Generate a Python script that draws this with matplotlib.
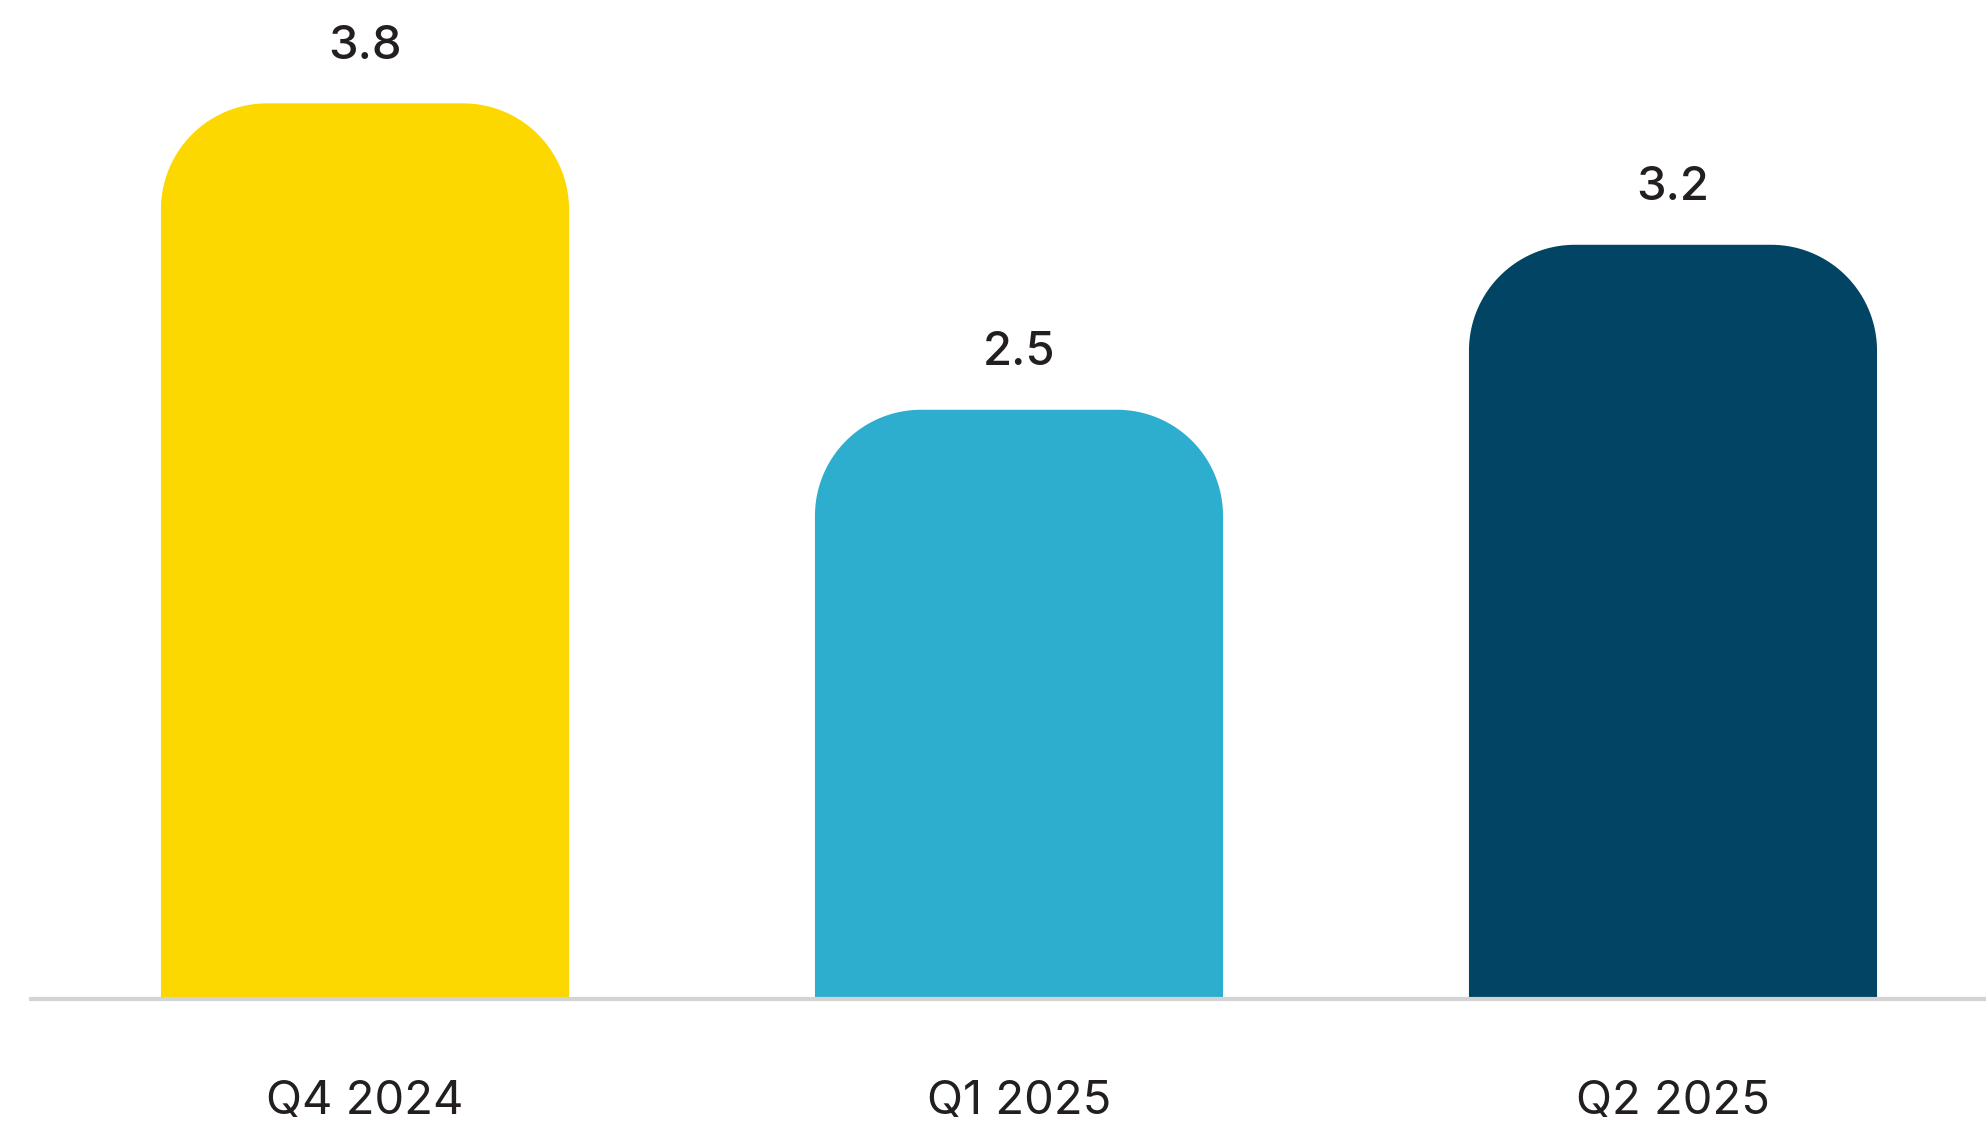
import numpy as np
import matplotlib
matplotlib.use("Agg")
import matplotlib.pyplot as plt
from matplotlib.patches import Polygon

# Data
categories = ["Q4 2024", "Q1 2025", "Q2 2025"]
values = [3.8, 2.5, 3.2]
colors = ["#FCD800", "#2EAECE", "#014463"]

W, H, DPI = 1986, 1128, 100
fig = plt.figure(figsize=(W / DPI, H / DPI), dpi=DPI)
ax = fig.add_axes([0, 0, 1, 1])

xlim = (-0.5581, 2.4786)
ylim = (-0.5473, 4.2385)
ax.set_xlim(*xlim)
ax.set_ylim(*ylim)
ax.axis("off")

bar_w = 0.624
# corner radius in pixels, converted to data units on each axis so the
# rounded corners come out circular on screen
px_x = W / (xlim[1] - xlim[0])
px_y = H / (ylim[1] - ylim[0])
r_px = 106
rx = r_px / px_x
ry = r_px / px_y


def rounded_top_bar(x_center, height, width):
    left, right = x_center - width / 2, x_center + width / 2
    t = np.linspace(0, np.pi / 2, 40)
    # top-right corner (from right side going up to the top edge)
    tr = np.column_stack([right - rx + rx * np.cos(t), height - ry + ry * np.sin(t)])
    # top-left corner
    tl = np.column_stack([left + rx - rx * np.cos(t[::-1]), height - ry + ry * np.sin(t[::-1])])
    pts = np.vstack([[right, 0], tr, tl, [left, 0]])
    return pts


text_color = "#231F20"

for i, (cat, val, col) in enumerate(zip(categories, values, colors)):
    ax.add_patch(Polygon(rounded_top_bar(i, val, bar_w), closed=True,
                         facecolor=col, edgecolor="none", zorder=2))
    ax.text(i, val + 0.19, f"{val:.1f}", ha="center", va="baseline",
            fontsize=34, color=text_color, family="Inter", fontweight="medium")
    ax.text(i, -0.437, cat, ha="center", va="center",
            fontsize=34, color=text_color, family="Inter", fontweight="normal")

# baseline
ax.plot([-0.514, xlim[1]], [0, 0], color="#D3D3D3", lw=3.0,
        solid_capstyle="butt", zorder=3)

fig.savefig("out.png", dpi=DPI)
